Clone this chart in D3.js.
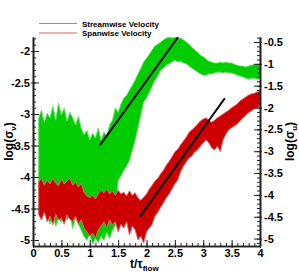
<!DOCTYPE html>
<html>
<head>
<meta charset="utf-8">
<script src="https://cdn.jsdelivr.net/npm/d3@7"></script>
<style>
  body { margin: 0; background: #fff; }
  svg text { font-family: "Liberation Sans", Arial, sans-serif; font-weight: bold; fill: #000; }
  .axis path, .axis line { stroke: #222; }
</style>
</head>
<body>
<div id="chart-area"></div>
<script>
// time axis, t / tau_flow
const tGrid = [0.10,0.15,0.20,0.25,0.30,0.35,0.40,0.45,0.50,0.55,
  0.60,0.65,0.70,0.75,0.80,0.85,0.90,0.95,1.00,1.05,
  1.10,1.15,1.20,1.25,1.30,1.35,1.40,1.45,1.50,1.55,
  1.60,1.65,1.70,1.75,1.80,1.85,1.90,1.95,2.00,2.05,
  2.10,2.15,2.20,2.25,2.30,2.35,2.40,2.45,2.50,2.55,
  2.60,2.65,2.70,2.75,2.80,2.85,2.90,2.95,3.00,3.05,
  3.10,3.15,3.20,3.25,3.30,3.35,3.40,3.45,3.50,3.55,
  3.60,3.65,3.70,3.75,3.80,3.85,3.90,3.95,4.00]

// streamwise velocity, log(sigma_u) (right axis): upper / lower envelope of the noise
const streamHi = [-2.24,-2.06,-2.34,-2.13,-2.24,-1.97,-2.29,-1.90,-2.17,-2.01,
  -2.31,-2.11,-2.24,-2.40,-2.20,-2.47,-2.63,-2.52,-2.75,-2.59,
  -2.70,-2.47,-2.75,-2.56,-2.66,-2.40,-2.29,-2.01,-2.11,-1.92,
  -1.78,-1.72,-1.60,-1.49,-1.37,-1.23,-1.10,-0.96,-0.87,-0.78,
  -0.68,-0.59,-0.55,-0.50,-0.45,-0.41,-0.39,-0.41,-0.39,-0.41,
  -0.41,-0.45,-0.50,-0.55,-0.62,-0.68,-0.73,-0.80,-0.84,-0.89,
  -0.94,-0.96,-0.98,-0.98,-0.96,-0.98,-0.96,-0.98,-0.98,-1.01,
  -1.03,-1.05,-1.05,-1.07,-1.05,-1.03,-1.01,-1.01,-1.03]
const streamLo = [-4.40,-4.58,-4.31,-4.49,-4.67,-4.45,-4.72,-4.54,-4.63,-4.40,
  -4.58,-4.47,-4.77,-4.54,-4.67,-4.81,-4.95,-5.04,-4.90,-5.13,
  -5.00,-5.09,-4.95,-5.04,-4.86,-5.00,-4.81,-4.70,-3.67,-3.57,
  -3.44,-3.34,-3.21,-2.98,-2.75,-2.47,-2.17,-1.88,-1.78,-1.65,
  -1.51,-1.37,-1.28,-1.14,-1.10,-1.03,-1.00,-0.96,-0.91,-0.96,
  -0.94,-0.98,-1.00,-1.05,-1.10,-1.14,-1.19,-1.23,-1.26,-1.26,
  -1.23,-1.23,-1.21,-1.19,-1.19,-1.21,-1.19,-1.21,-1.21,-1.23,
  -1.26,-1.28,-1.30,-1.33,-1.35,-1.33,-1.33,-1.35,-1.33]

// spanwise velocity, log(sigma_v) (left axis)
const spanHi = [-4.08,-4.02,-4.13,-4.05,-4.11,-4.02,-4.10,-4.14,-4.03,-4.11,
  -4.06,-4.02,-4.13,-4.08,-4.16,-4.10,-4.24,-4.30,-4.33,-4.29,
  -4.35,-4.27,-4.21,-4.25,-4.19,-4.27,-4.22,-4.29,-4.21,-4.27,
  -4.24,-4.30,-4.22,-4.29,-4.25,-4.33,-4.37,-4.32,-4.27,-4.19,
  -4.13,-4.06,-4.02,-3.95,-3.89,-3.81,-3.75,-3.68,-3.60,-3.56,
  -3.49,-3.43,-3.37,-3.29,-3.25,-3.21,-3.16,-3.11,-3.08,-3.06,
  -3.10,-3.13,-3.10,-3.06,-3.03,-3.00,-2.97,-2.94,-2.90,-2.87,
  -2.84,-2.79,-2.76,-2.73,-2.70,-2.68,-2.67,-2.65,-2.63]
const spanLo = [-4.60,-4.68,-4.56,-4.71,-4.62,-4.76,-4.59,-4.68,-4.65,-4.75,
  -4.60,-4.67,-4.71,-4.62,-4.75,-4.68,-4.81,-4.87,-4.94,-4.89,
  -4.97,-4.84,-4.78,-4.71,-4.81,-4.68,-4.76,-4.71,-4.87,-4.75,
  -4.81,-4.71,-4.92,-4.78,-4.84,-5.00,-4.94,-5.05,-4.87,-4.81,
  -4.75,-4.62,-4.56,-4.48,-4.41,-4.33,-4.27,-4.19,-4.11,-4.05,
  -3.92,-3.83,-3.76,-3.70,-3.67,-3.60,-3.57,-3.51,-3.46,-3.41,
  -3.46,-3.54,-3.57,-3.51,-3.60,-3.41,-3.32,-3.25,-3.22,-3.19,
  -3.16,-3.11,-3.06,-3.02,-2.98,-2.95,-2.92,-2.90,-2.87]

// linear growth fits (black lines): [t, value]
const streamFit = [[1.18, -2.86], [2.555, -0.39]]
const spanFit = [[1.885, -4.63], [3.38, -2.75]]

// tick labels
const xTicks = [0, 0.5, 1, 1.5, 2, 2.5, 3, 3.5, 4]
const leftTicks = [-5, -4.5, -4, -3.5, -3, -2.5, -2]
const rightTicks = [-5, -4.5, -4, -3.5, -3, -2.5, -2, -1.5, -1, -0.5]
const legendNames = ["Streamwise Velocity", "Spanwise Velocity"]

const W = 299, H = 280
const PLOT = { LEFT: 33, RIGHT: 260, TOP: 37, BOTTOM: 246 }

const svg = d3.select("#chart-area").append("svg")
  .attr("width", W)
  .attr("height", H)

const x = d3.scaleLinear().domain([0, 4]).range([PLOT.LEFT, PLOT.RIGHT])
const yL = d3.scaleLinear().domain([-5.095, -1.778]).range([PLOT.BOTTOM, PLOT.TOP])
const yR = d3.scaleLinear().domain([-5.17, -0.385]).range([PLOT.BOTTOM, PLOT.TOP])

const fmt = d => String(d)

// noise bands
function band(hi, lo, y, fill, edge) {
  const rows = tGrid.map((t, i) => ({ t: t, hi: hi[i], lo: lo[i] }))
  const area = d3.area()
    .x(d => x(d.t))
    .y0(d => y(d.lo))
    .y1(d => y(d.hi))
  svg.append("path")
    .attr("d", area(rows))
    .attr("fill", fill)
    .attr("stroke", edge)
    .attr("stroke-width", 1)
}
band(streamHi, streamLo, yR, "#00cc00", "#6ee06e")
band(spanHi, spanLo, yL, "#cc0000", "#e06a6a")

// fit lines
const line = d3.line()
svg.append("path")
  .attr("d", line(streamFit.map(d => [x(d[0]), yR(d[1])])))
  .attr("stroke", "#000").attr("stroke-width", 2).attr("fill", "none")
svg.append("path")
  .attr("d", line(spanFit.map(d => [x(d[0]), yL(d[1])])))
  .attr("stroke", "#000").attr("stroke-width", 2).attr("fill", "none")

// axes: ticks point into the plot, minor ticks every 0.1
function minor(axisGen, scale, vals) {
  return axisGen(scale).tickValues(vals).tickSizeInner(-3).tickSizeOuter(0).tickFormat("")
}

const leftG = svg.append("g").attr("class", "axis")
  .attr("transform", `translate(${PLOT.LEFT},0)`)
leftG.call(minor(d3.axisLeft, yL, d3.range(-5.0, -1.75, 0.1)))
leftG.append("g").call(d3.axisLeft(yL).tickValues(leftTicks)
  .tickSizeInner(-6).tickSizeOuter(0).tickPadding(3).tickFormat(fmt))

const rightG = svg.append("g").attr("class", "axis")
  .attr("transform", `translate(${PLOT.RIGHT},0)`)
rightG.call(minor(d3.axisRight, yR, d3.range(-5.1, -0.35, 0.1)))
rightG.append("g").call(d3.axisRight(yR).tickValues(rightTicks)
  .tickSizeInner(-6).tickSizeOuter(0).tickPadding(4).tickFormat(fmt))

const bottomG = svg.append("g").attr("class", "axis")
  .attr("transform", `translate(0,${PLOT.BOTTOM})`)
bottomG.call(minor(d3.axisBottom, x, d3.range(0, 4.01, 0.1)))
bottomG.append("g").call(d3.axisBottom(x).tickValues(xTicks)
  .tickSizeInner(-6).tickSizeOuter(0).tickPadding(3).tickFormat(fmt))

svg.selectAll(".axis path.domain").attr("stroke-width", 1.6)
svg.selectAll(".axis .tick line").attr("stroke-width", 1)
// major ticks poke slightly outside the frame
leftG.selectAll("g > g .tick line").attr("x1", -2)
rightG.selectAll("g > g .tick line").attr("x1", 2)
bottomG.selectAll("g > g .tick line").attr("y1", 2)
svg.selectAll(".axis .tick text")
  .attr("font-size", "11px")
  .attr("font-family", "'Liberation Sans', Arial, sans-serif")
  .attr("font-weight", "bold")
  .attr("fill", "#000")

// axis titles
const yLabelL = svg.append("text")
  .attr("transform", `translate(13,${(PLOT.TOP + PLOT.BOTTOM) / 2}) rotate(-90)`)
  .attr("text-anchor", "middle")
  .attr("font-size", "12px")
yLabelL.append("tspan").text("log(σ")
yLabelL.append("tspan").attr("font-size", "8px").attr("dy", 3).text("v")
yLabelL.append("tspan").attr("dy", -3).text(")")

const yLabelR = svg.append("text")
  .attr("transform", `translate(294,${(PLOT.TOP + PLOT.BOTTOM) / 2}) rotate(-90)`)
  .attr("text-anchor", "middle")
  .attr("font-size", "12px")
yLabelR.append("tspan").text("log(σ")
yLabelR.append("tspan").attr("font-size", "8px").attr("dy", 3).text("u")
yLabelR.append("tspan").attr("dy", -3).text(")")

const xLabel = svg.append("text")
  .attr("x", 130)
  .attr("y", 268)
  .attr("font-size", "12px")
xLabel.append("tspan").text("t/τ")
xLabel.append("tspan").attr("font-size", "8px").attr("dy", 3).text("flow")

// legend
const legendColors = ["#3ccc3c", "#d96464"]
legendNames.forEach((name, i) => {
  const ly = 23.5 + i * 9.5
  svg.append("line")
    .attr("x1", 39).attr("x2", 77)
    .attr("y1", ly).attr("y2", ly)
    .attr("stroke", legendColors[i])
    .attr("stroke-width", 1)
  svg.append("text")
    .attr("x", 82)
    .attr("y", ly + 3)
    .attr("font-size", "8px")
    .text(name)
})
</script>
</body>
</html>
